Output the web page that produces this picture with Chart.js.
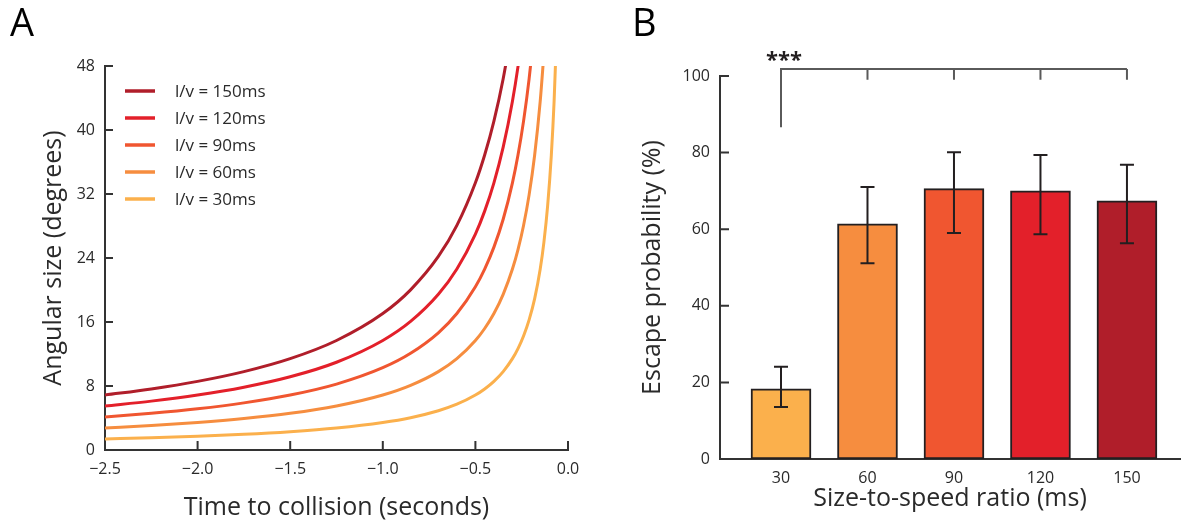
<!DOCTYPE html>
<html><head><meta charset="utf-8">
<script src="https://cdn.jsdelivr.net/npm/chart.js@4.4.0/dist/chart.umd.min.js"></script>
<style>
html,body{margin:0;padding:0;background:#fff;}
#wrap{position:relative;width:1182px;height:523px;overflow:hidden;font-family:'Open Sans',sans-serif;}
.panel{position:absolute;top:0;height:523px;}
#pa{left:0;width:590px;}
#pb{left:590px;width:592px;}
.lbl{position:absolute;font-size:38px;line-height:38px;color:#000;font-family:'Open Sans',sans-serif;}
</style></head><body>
<div id="wrap">
<div class="panel" id="pa"><canvas id="ca"></canvas></div>
<div class="panel" id="pb"><canvas id="cb"></canvas></div>
<div class="lbl" style="left:10px;top:2px">A</div>
<div class="lbl" style="left:632px;top:2px">B</div>
</div>
<script>
// ---------- Panel A data ----------
const timeToCollision = [-2.5, -2.25, -2.0, -1.75, -1.5, -1.25, -1.0, -0.85, -0.7, -0.6, -0.5, -0.45, -0.4, -0.35, -0.3, -0.27, -0.24, -0.21, -0.18, -0.15, -0.13, -0.11, -0.09, -0.075, -0.06];
const angle150 = [6.87, 7.63, 8.58, 9.80, 11.42, 13.69, 17.06, 20.02, 24.19, 28.07, 33.40, 36.87, 41.11, 46.40, 53.13];
const angle120 = [5.50, 6.11, 6.87, 7.85, 9.15, 10.97, 13.69, 16.07, 19.46, 22.62, 26.99, 29.86, 33.40, 37.85, 43.60, 47.92, 53.13];
const angle90  = [4.12, 4.58, 5.15, 5.89, 6.87, 8.24, 10.29, 12.09, 14.65, 17.06, 20.41, 22.62, 25.36, 28.84, 33.40, 36.87, 41.11, 46.40, 53.13];
const angle60  = [2.75, 3.06, 3.44, 3.93, 4.58, 5.50, 6.87, 8.08, 9.80, 11.42, 13.69, 15.19, 17.06, 19.46, 22.62, 25.06, 28.07, 31.89, 36.87, 43.60, 49.55];
const angle30  = [1.38, 1.53, 1.72, 1.96, 2.29, 2.75, 3.44, 4.04, 4.91, 5.72, 6.87, 7.63, 8.58, 9.80, 11.42, 12.68, 14.25, 16.26, 18.92, 22.62, 25.99, 30.51, 36.87, 43.60, 53.13];
const seriesLabels = ['l/v = 150ms', 'l/v = 120ms', 'l/v = 90ms', 'l/v = 60ms', 'l/v = 30ms'];
const angleTicksY = [0, 8, 16, 24, 32, 40, 48];
const timeTicksX = [-2.5, -2.0, -1.5, -1.0, -0.5, 0.0];

// ---------- Panel B data ----------
const ratioCategories = [30, 60, 90, 120, 150];
const escapeMean    = [18.3, 61.4, 70.6, 70.0, 67.4];
const escapeErrHigh = [24.1, 71.0, 80.1, 79.4, 76.8];
const escapeErrLow  = [13.6, 51.1, 59.0, 58.7, 56.3];
const escapeTicksY  = [0, 20, 40, 60, 80, 100];
const bracketLevel = 101.8, bracketLegBottom = 86.6, bracketTickBottom = 99.0;
const sigLabel = '***', sigLevel = 104;

const colors = ['#B01E2A', '#E3202A', '#F05630', '#F68D3F', '#FBB04C'];
const barColors = ['#FBB04C', '#F68D3F', '#F05630', '#E3202A', '#B01E2A'];
const axisColor = '#333333';
const textColor = '#2a2a2a';
const FONT = "'Open Sans', sans-serif";

function pts(vals){ return vals.map((v,i)=>({x: timeToCollision[i], y: v})); }

const inwardTicks = {
  id: 'inwardTicks',
  afterDatasetsDraw(chart, args, opts){
    const ctx = chart.ctx, xs = chart.scales.x, ys = chart.scales.y, ca = chart.chartArea;
    ctx.save();
    ctx.strokeStyle = axisColor; ctx.lineWidth = 2;
    ctx.beginPath();
    ys.ticks.forEach(t => { const py = ys.getPixelForValue(t.value); ctx.moveTo(ca.left, py); ctx.lineTo(ca.left + opts.yLen, py); });
    if (opts.xLen) xs.ticks.forEach(t => { const px = xs.getPixelForValue(t.value); ctx.moveTo(px, ca.bottom); ctx.lineTo(px, ca.bottom - opts.xLen); });
    ctx.stroke();
    ctx.restore();
  }
};

const lineLegend = {
  id: 'lineLegend',
  afterDraw(chart){
    const ctx = chart.ctx, ca = chart.chartArea;
    ctx.save();
    ctx.font = "17px " + FONT;
    ctx.textBaseline = 'middle';
    ctx.fillStyle = textColor;
    chart.data.datasets.forEach((ds, i) => {
      const y = ca.top + 25 + i * 27;
      ctx.strokeStyle = ds.borderColor; ctx.lineWidth = 3.5;
      ctx.beginPath(); ctx.moveTo(ca.left + 20, y); ctx.lineTo(ca.left + 50, y); ctx.stroke();
      ctx.fillText(ds.label, ca.left + 70, y + 1);
    });
    ctx.restore();
  }
};

new Chart(document.getElementById('ca'), {
  type: 'line',
  data: {
    datasets: [angle150, angle120, angle90, angle60, angle30].map((vals, i) => ({
      label: seriesLabels[i], data: pts(vals), borderColor: colors[i], borderWidth: 3,
      pointRadius: 0, cubicInterpolationMode: 'monotone', fill: false
    }))
  },
  options: {
    responsive: true, maintainAspectRatio: false, animation: false,
    layout: { padding: { top: 66, right: 22, left: 0, bottom: 0 } },
    plugins: { legend: { display: false }, tooltip: { enabled: false }, inwardTicks: { yLen: 8, xLen: 9 } },
    scales: {
      x: {
        type: 'linear', min: -2.5, max: 0,
        afterBuildTicks: s => { s.ticks = timeTicksX.map(v => ({ value: v })); },
        afterFit: s => { s.height = 73; },
        grid: { display: false, drawTicks: false },
        border: { display: true, color: axisColor, width: 2 },
        ticks: { padding: 10, color: textColor, font: { family: FONT, size: 16 },
          callback: v => (v < 0 ? '\u2212' : '') + Math.abs(v).toFixed(1) },
        title: { display: true, text: 'Time to collision (seconds)', color: textColor,
          font: { family: FONT, size: 25 }, padding: { top: 0, bottom: 0 } }
      },
      y: {
        type: 'linear', min: 0, max: 48,
        afterBuildTicks: s => { s.ticks = angleTicksY.map(v => ({ value: v })); },
        afterFit: s => { s.width = 105; },
        grid: { display: false, drawTicks: false },
        border: { display: true, color: axisColor, width: 2 },
        ticks: { padding: 10, color: textColor, font: { family: FONT, size: 16 } },
        title: { display: true, text: 'Angular size (degrees)', color: textColor,
          font: { family: FONT, size: 25 }, padding: { top: 39, bottom: 0 } }
      }
    }
  },
  plugins: [inwardTicks, lineLegend]
});

const errorBars = {
  id: 'errorBars',
  afterDatasetsDraw(chart){
    const ctx = chart.ctx, xs = chart.scales.x, ys = chart.scales.y;
    ctx.save();
    ctx.strokeStyle = '#231f20'; ctx.lineWidth = 2;
    ratioCategories.forEach((c, i) => {
      const px = xs.getPixelForValue(c);
      const hi = ys.getPixelForValue(escapeErrHigh[i]);
      const lo = ys.getPixelForValue(escapeErrLow[i]);
      ctx.beginPath();
      ctx.moveTo(px, hi); ctx.lineTo(px, lo);
      ctx.moveTo(px - 7, hi); ctx.lineTo(px + 7, hi);
      ctx.moveTo(px - 7, lo); ctx.lineTo(px + 7, lo);
      ctx.stroke();
    });
    // significance bracket
    const yb = ys.getPixelForValue(bracketLevel);
    const x0 = xs.getPixelForValue(ratioCategories[0]);
    const x1 = xs.getPixelForValue(ratioCategories[ratioCategories.length - 1]);
    ctx.strokeStyle = '#5a5a5a'; ctx.lineWidth = 2;
    ctx.beginPath();
    ctx.moveTo(x0, ys.getPixelForValue(bracketLegBottom)); ctx.lineTo(x0, yb); ctx.lineTo(x1, yb);
    ratioCategories.slice(1).forEach(c => {
      const px = xs.getPixelForValue(c);
      ctx.moveTo(px, yb); ctx.lineTo(px, ys.getPixelForValue(bracketTickBottom));
    });
    ctx.stroke();
    ctx.fillStyle = '#231f20';
    ctx.font = "bold 22px " + FONT;
    ctx.textAlign = 'center'; ctx.textBaseline = 'middle';
    ctx.fillText(sigLabel, x0 + 3, ys.getPixelForValue(sigLevel));
    ctx.restore();
  }
};

new Chart(document.getElementById('cb'), {
  type: 'bar',
  data: {
    datasets: [{
      data: ratioCategories.map((c, i) => ({ x: c, y: escapeMean[i] })),
      backgroundColor: barColors, borderColor: '#231f20', borderWidth: 2,
      borderSkipped: false, barThickness: 60
    }]
  },
  options: {
    responsive: true, maintainAspectRatio: false, animation: false,
    layout: { padding: { top: 76, right: 2, left: 0, bottom: 0 } },
    plugins: { legend: { display: false }, tooltip: { enabled: false }, inwardTicks: { yLen: 9, xLen: 0 } },
    scales: {
      x: {
        type: 'linear', min: 8.84, max: 168.4, offset: false,
        afterBuildTicks: s => { s.ticks = ratioCategories.map(v => ({ value: v })); },
        afterFit: s => { s.height = 64; },
        grid: { display: false, drawTicks: false, offset: false },
        border: { display: true, color: axisColor, width: 2 },
        ticks: { padding: 10, color: textColor, font: { family: FONT, size: 16 } },
        title: { display: true, text: 'Size-to-speed ratio (ms)', color: textColor,
          font: { family: FONT, size: 25 }, padding: { top: 0, bottom: 9.5 } }
      },
      y: {
        type: 'linear', min: 0, max: 100,
        afterBuildTicks: s => { s.ticks = escapeTicksY.map(v => ({ value: v })); },
        afterFit: s => { s.width = 130; },
        grid: { display: false, drawTicks: false },
        border: { display: true, color: axisColor, width: 2 },
        ticks: { padding: 10, color: textColor, font: { family: FONT, size: 16 } },
        title: { display: true, text: 'Escape probability (%)', color: textColor,
          font: { family: FONT, size: 25 }, padding: { top: 48, bottom: 0 } }
      }
    }
  },
  plugins: [inwardTicks, errorBars]
});
</script>
</body></html>
